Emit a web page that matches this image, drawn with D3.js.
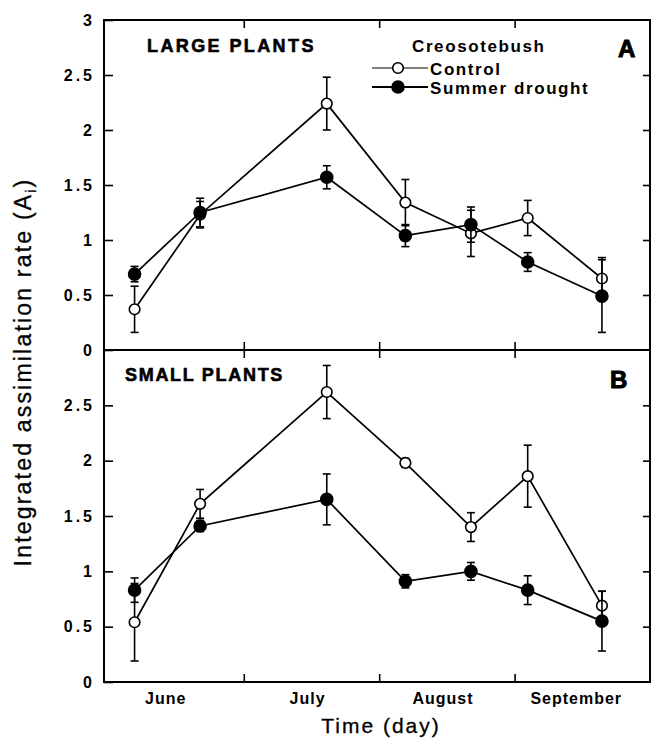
<!DOCTYPE html>
<html>
<head>
  <script src="https://d3js.org/d3.v7.min.js"></script>
  <style>
    body { margin: 0; background: #fff; }
    text { font-family: "Liberation Sans", Arial, Helvetica, sans-serif; fill: #000; }
    .panel-name { font-size: 18px; font-weight: bold; letter-spacing: 2.4px; stroke: #000; stroke-width: 0.6px; }
    .panel-letter { font-size: 24px; font-weight: bold; stroke: #000; stroke-width: 1px; }
    .legend-text { font-size: 17px; font-weight: bold; letter-spacing: 1.6px; }
    .axis-title { font-size: 21px; letter-spacing: 2px; stroke: #000; stroke-width: 0.3px; }
  </style>
</head>
<body>
  <div id="chart"></div>

  <script>
    // sampling dates (day of year)
    var days = [157, 172, 201, 219, 234, 247, 264];

    // panel A: large plants
    var largeControl = [0.37, 1.23, 2.24, 1.34, 1.06, 1.20, 0.65];
    var largeControlErr = [0.21, 0.12, 0.24, 0.21, 0.21, 0.16, 0.19];
    var largeDrought = [0.69, 1.25, 1.57, 1.04, 1.14, 0.80, 0.49];
    var largeDroughtErr = [0.07, 0.13, 0.105, 0.10, 0.16, 0.085, 0.33];

    // panel B: small plants
    var smallControl = [0.54, 1.61, 2.62, 1.98, 1.40, 1.86, 0.69];
    var smallControlErr = [0.35, 0.13, 0.24, 0.04, 0.13, 0.28, 0.13];
    var smallDrought = [0.83, 1.41, 1.65, 0.91, 1.00, 0.83, 0.55];
    var smallDroughtErr = [0.11, 0.05, 0.23, 0.06, 0.08, 0.13, 0.27];

    var monthTicks = [182, 213, 244];
    var monthLabels = ["June", "July", "August", "September"];
    var monthLabelDays = [164, 196.5, 227.5, 258];
    var yTicksA = [0, 0.5, 1, 1.5, 2, 2.5, 3];
    var yTicksB = [0, 0.5, 1, 1.5, 2, 2.5];

    var W = 652, H = 744;
    var left = 104, right = 650, topA = 20, mid = 350, bottomB = 682;

    var svg = d3.select("#chart").append("svg")
      .attr("width", W)
      .attr("height", H);

    var x = d3.scaleLinear().domain([150, 275]).range([left, right]);
    var yA = d3.scaleLinear().domain([0, 3]).range([mid, topA]);
    var yB = d3.scaleLinear().domain([0, 3]).range([bottomB, mid]);

    function drawPanel(y, ticks, control, controlErr, drought, droughtErr, name, letter) {
      // left axis with labels
      svg.append("g")
        .attr("transform", "translate(" + left + ",0)")
        .call(d3.axisLeft(y).tickValues(ticks).tickSize(-9).tickPadding(9)
          .tickFormat(function(d) { return d; }))
        .call(function(g) {
          g.select(".domain").remove();
          g.selectAll("line").attr("stroke", "#000").attr("stroke-width", 1.6);
          g.selectAll("text")
            .style("font-family", "'Liberation Sans', Arial, sans-serif")
            .style("font-size", "16px")
            .style("font-weight", "bold")
            .style("letter-spacing", "3px");
        });

      // right axis ticks
      svg.append("g")
        .attr("transform", "translate(" + right + ",0)")
        .call(d3.axisRight(y).tickValues([0.5, 1, 1.5, 2, 2.5]).tickSize(-7).tickFormat(""))
        .call(function(g) {
          g.select(".domain").remove();
          g.selectAll("line").attr("stroke", "#000").attr("stroke-width", 1.6);
        });

      var line = d3.line()
        .x(function(d) { return x(d.day); })
        .y(function(d) { return y(d.v); });

      function series(vals, errs, filled) {
        var pts = days.map(function(d, i) { return { day: d, v: vals[i], e: errs[i] }; });
        var g = svg.append("g");
        g.append("path")
          .datum(pts)
          .attr("d", line)
          .attr("fill", "none")
          .attr("stroke", "#000")
          .attr("stroke-width", 1.7);
        var eb = g.selectAll(".err").data(pts).enter().append("g")
          .attr("stroke", "#000").attr("stroke-width", 1.6);
        eb.append("line")
          .attr("x1", function(d) { return x(d.day); })
          .attr("x2", function(d) { return x(d.day); })
          .attr("y1", function(d) { return y(d.v - d.e); })
          .attr("y2", function(d) { return y(d.v + d.e); });
        [1, -1].forEach(function(s) {
          eb.append("line")
            .attr("x1", function(d) { return x(d.day) - 4; })
            .attr("x2", function(d) { return x(d.day) + 4; })
            .attr("y1", function(d) { return y(d.v + s * d.e); })
            .attr("y2", function(d) { return y(d.v + s * d.e); });
        });
        g.selectAll(".pt").data(pts).enter().append("circle")
          .attr("cx", function(d) { return x(d.day); })
          .attr("cy", function(d) { return y(d.v); })
          .attr("r", filled ? 6 : 5.3)
          .attr("fill", filled ? "#000" : "#fff")
          .attr("stroke", "#000")
          .attr("stroke-width", 1.6);
      }

      series(control, controlErr, false);
      series(drought, droughtErr, true);

      var large = name === "LARGE PLANTS";
      svg.append("text")
        .attr("class", "panel-name")
        .attr("x", left + (large ? 43 : 21))
        .attr("y", y(3) + (large ? 32 : 31))
        .style("letter-spacing", large ? "2.4px" : "1.7px")
        .text(name);

      svg.append("text")
        .attr("class", "panel-letter")
        .attr("x", right - 32 + (letter === "B" ? -8 : 0))
        .attr("y", y(3) + (letter === "A" ? 37 : 38))
        .text(letter);
    }

    drawPanel(yA, yTicksA, largeControl, largeControlErr, largeDrought, largeDroughtErr, "LARGE PLANTS", "A");
    drawPanel(yB, yTicksB, smallControl, smallControlErr, smallDrought, smallDroughtErr, "SMALL PLANTS", "B");

    // month ticks: top, middle (both sides), bottom
    function monthAxis(axis, yPos) {
      svg.append("g")
        .attr("transform", "translate(0," + yPos + ")")
        .call(axis.tickValues(monthTicks).tickSize(-8).tickFormat(""))
        .call(function(g) {
          g.select(".domain").remove();
          g.selectAll("line").attr("stroke", "#000").attr("stroke-width", 1.6);
        });
    }
    monthAxis(d3.axisTop(x), topA);
    monthAxis(d3.axisTop(x), mid);
    monthAxis(d3.axisBottom(x), mid);
    monthAxis(d3.axisBottom(x), bottomB);

    // frame
    svg.append("rect")
      .attr("x", left).attr("y", topA)
      .attr("width", right - left).attr("height", bottomB - topA)
      .attr("fill", "none").attr("stroke", "#000").attr("stroke-width", 2);
    svg.append("line")
      .attr("x1", left).attr("x2", right)
      .attr("y1", mid).attr("y2", mid)
      .attr("stroke", "#000").attr("stroke-width", 2);

    // month labels
    svg.append("g")
      .attr("transform", "translate(0," + bottomB + ")")
      .call(d3.axisBottom(x).tickValues(monthLabelDays).tickSize(0).tickPadding(11)
        .tickFormat(function(d, i) { return monthLabels[i]; }))
      .call(function(g) {
        g.select(".domain").remove();
        g.selectAll("text")
          .style("font-family", "'Liberation Sans', Arial, sans-serif")
          .style("font-size", "16px")
          .style("font-weight", "bold")
          .style("letter-spacing", "1px");
      });

    // axis titles
    svg.append("text")
      .attr("class", "axis-title")
      .attr("x", 381)
      .attr("y", 733)
      .attr("text-anchor", "middle")
      .text("Time  (day)");

    var yt = svg.append("text")
      .attr("class", "axis-title")
      .attr("transform", "translate(31,372) rotate(-90)")
      .attr("text-anchor", "middle")
      .style("font-size", "23px")
      .style("letter-spacing", "2.2px");
    yt.append("tspan").text("Integrated  assimilation  rate  (A");
    yt.append("tspan").attr("font-size", "14px").attr("dy", 5).text("i");
    yt.append("tspan").attr("dy", -5).text(")");

    // legend
    var lg = svg.append("g");
    lg.append("text").attr("class", "legend-text").attr("x", 412).attr("y", 52).text("Creosotebush");
    var legendRows = [
      { label: "Control", filled: false, y: 68 },
      { label: "Summer  drought", filled: true, y: 87 }
    ];
    legendRows.forEach(function(r) {
      lg.append("line")
        .attr("x1", 372).attr("x2", 428)
        .attr("y1", r.y).attr("y2", r.y)
        .attr("stroke", "#000").attr("stroke-width", r.filled ? 1.8 : 1);
      lg.append("circle")
        .attr("cx", 398).attr("cy", r.y)
        .attr("r", r.filled ? 6 : 5.3)
        .attr("fill", r.filled ? "#000" : "#fff")
        .attr("stroke", "#000").attr("stroke-width", 1.6);
      lg.append("text").attr("class", "legend-text").attr("x", 430).attr("y", r.y + 7).text(r.label);
    });
  </script>
</body>
</html>
